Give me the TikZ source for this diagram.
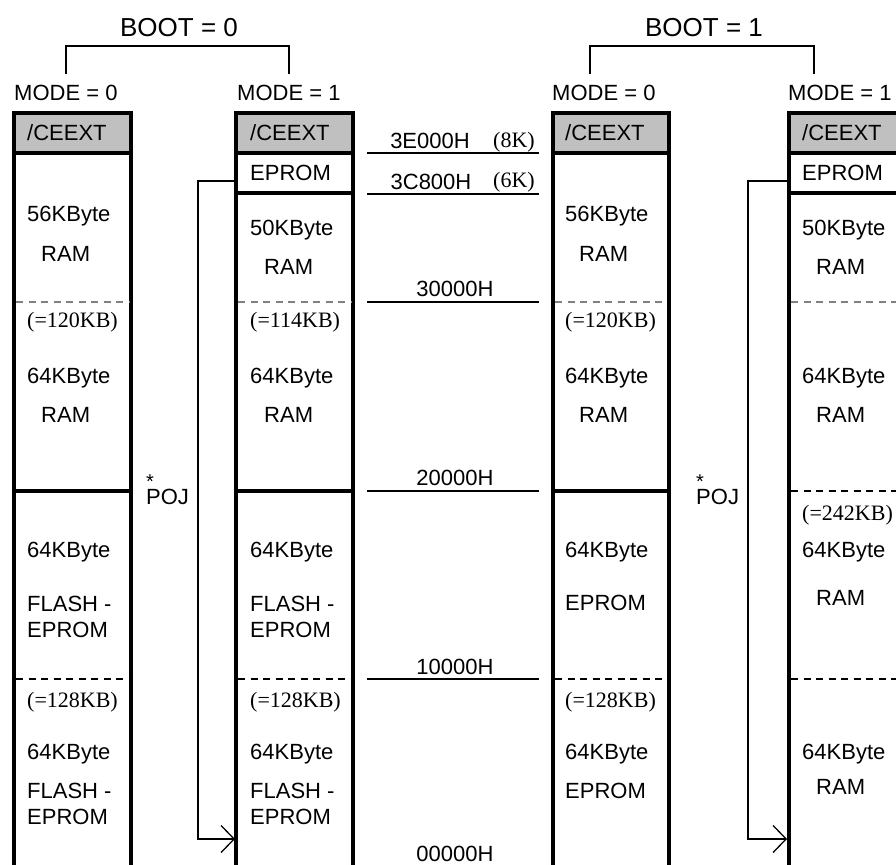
\documentclass[tikz,border=0pt]{standalone}
\usepackage{fontspec}
\setmainfont{Liberation Sans}
\newfontfamily\tnr{Liberation Serif}
\usetikzlibrary{arrows.meta}
\definecolor{hdr}{RGB}{192,192,192}
\definecolor{dgray}{RGB}{128,128,128}
\begin{document}
\begin{tikzpicture}[x=1pt,y=-1pt,
  colline/.style={line width=4pt, line join=miter},
  t/.style={anchor=west, inner sep=0pt, text height=15.7pt, text depth=0pt, font=\fontsize{22}{26}\selectfont},
  ts/.style={anchor=west, inner sep=0pt, text height=15.7pt, text depth=0pt, font=\fontsize{22}{26}\selectfont\tnr},
  tc/.style={anchor=center, inner sep=0pt, text height=15.7pt, text depth=0pt, font=\fontsize{22}{26}\selectfont},
  tcs/.style={anchor=center, inner sep=0pt, text height=15.7pt, text depth=0pt, font=\fontsize{22}{26}\selectfont\tnr},
  boot/.style={anchor=center, inner sep=0pt, text height=18.6pt, text depth=0pt, font=\fontsize{26}{30}\selectfont},
  star/.style={anchor=south, inner sep=0pt, font=\fontsize{20}{24}\selectfont},
  gdash/.style={draw=dgray, line width=1.5pt, dash pattern=on 7pt off 5.5pt},
  bdash/.style={draw=black, line width=1.3pt, dash pattern=on 7pt off 5.5pt},
  addr/.style={line width=2pt},
  brk/.style={line width=1.6pt},
  poj/.style={line width=1.3pt, -{Straight Barb[length=13pt,width=27pt,line width=1.3pt]}}
]
\clip (0,0) rectangle (896,864);
\fill[white] (0,0) rectangle (896,864);

% columns
\foreach \L/\R in {14/131,236/353,553/669,789/906}{
  \fill[hdr] (\L,113) rectangle (\R,153);
  \draw[colline] (\L,880) -- (\L,113) -- (\R,113) -- (\R,880);
  \draw[colline] (\L,153) -- (\R,153);
}
% EPROM separators
\draw[colline] (236,193) -- (353,193);
\draw[colline] (789,193) -- (906,193);
% 20000H thick separators
\draw[colline] (14,491) -- (131,491);
\draw[colline] (236,491) -- (353,491);
\draw[colline] (553,491) -- (669,491);
% dashed separators
\foreach \L/\R in {14/131,236/353,553/669,789/906}{
  \draw[gdash] (\L+2,302) -- (\R-2,302);
  \draw[bdash] (\L+2,679) -- (\R-2,679);
}
\draw[bdash] (791,491) -- (906,491);

% top labels and brackets
\node[boot] (b0) at (179,27) {BOOT = 0};
\node[boot] (b1) at (704,27) {BOOT = 1};
\draw[brk] (66,74) -- (66,46) -- (289,46) -- (289,74);
\draw[brk] (590,74) -- (590,46) -- (814,46) -- (814,74);
\node[t] (m1) at (14,93) {MODE = 0};
\node[t] (m2) at (237,93) {MODE = 1};
\node[t] (m3) at (552,93) {MODE = 0};
\node[t] (m4) at (788,93) {MODE = 1};

% column 1
\node[t] (c1h) at (27,133) {/CEEXT};
\node[t] (c1a) at (27,214) {56KByte};
\node[t] (c1b) at (41,254) {RAM};
\node[ts] (c1c) at (27,320) {(=120KB)};
\node[t] (c1d) at (27,376) {64KByte};
\node[t] (c1e) at (41,415) {RAM};
\node[t] (c1f) at (27,550) {64KByte};
\node[t] (c1g) at (27,604) {FLASH -};
\node[t] (c1h2) at (27,630) {EPROM};
\node[ts] (c1i) at (27,700) {(=128KB)};
\node[t] (c1j) at (27,752) {64KByte};
\node[t] (c1k) at (27,791) {FLASH -};
\node[t] (c1l) at (27,817) {EPROM};

% column 2
\node[t] (c2h) at (250,133) {/CEEXT};
\node[t] (c2e0) at (250,173) {EPROM};
\node[t] (c2a) at (250,228) {50KByte};
\node[t] (c2b) at (264,267) {RAM};
\node[ts] (c2c) at (250,320) {(=114KB)};
\node[t] (c2d) at (250,376) {64KByte};
\node[t] (c2e) at (264,415) {RAM};
\node[t] (c2f) at (250,550) {64KByte};
\node[t] (c2g) at (250,604) {FLASH -};
\node[t] (c2h2) at (250,630) {EPROM};
\node[ts] (c2i) at (250,700) {(=128KB)};
\node[t] (c2j) at (250,752) {64KByte};
\node[t] (c2k) at (250,791) {FLASH -};
\node[t] (c2l) at (250,817) {EPROM};

% column 3
\node[t] (c3h) at (565,133) {/CEEXT};
\node[t] (c3a) at (565,214) {56KByte};
\node[t] (c3b) at (579,254) {RAM};
\node[ts] (c3c) at (565,320) {(=120KB)};
\node[t] (c3d) at (565,376) {64KByte};
\node[t] (c3e) at (579,415) {RAM};
\node[t] (c3f) at (565,550) {64KByte};
\node[t] (c3g) at (565,603) {EPROM};
\node[ts] (c3i) at (565,700) {(=128KB)};
\node[t] (c3j) at (565,752) {64KByte};
\node[t] (c3k) at (565,791) {EPROM};

% column 4
\node[t] (c4h) at (802,133) {/CEEXT};
\node[t] (c4e0) at (802,173) {EPROM};
\node[t] (c4a) at (802,228) {50KByte};
\node[t] (c4b) at (816,267) {RAM};
\node[t] (c4d) at (802,376) {64KByte};
\node[t] (c4e) at (816,415) {RAM};
\node[ts] (c4c) at (802,513) {(=242KB)};
\node[t] (c4f) at (802,550) {64KByte};
\node[t] (c4g) at (816,598) {RAM};
\node[t] (c4j) at (802,752) {64KByte};
\node[t] (c4k) at (816,787) {RAM};

% address scale
\node[tc] (ad1) at (430,141) {3E000H};
\node[tcs] (k8) at (514,140) {(8K)};
\draw[addr] (367,153) -- (539,153);
\node[tc] (ad2) at (431,182) {3C800H};
\node[tcs] (k6) at (514,180) {(6K)};
\draw[addr] (367,194) -- (539,194);
\node[tc] (ad3) at (455,289) {30000H};
\draw[addr] (367,302) -- (539,302);
\node[tc] (ad4) at (455,478) {20000H};
\draw[addr] (367,491) -- (539,491);
\node[tc] (ad5) at (455,667) {10000H};
\draw[addr] (367,679) -- (539,679);
\node[tc] (ad6) at (455,854) {00000H};

% POJ arrows
\node[t] (poj1) at (146,497) {POJ};
\node[star] (st1) at ([xshift=4pt]poj1.north west) {*};
\node[t] (poj2) at (696,497) {POJ};
\node[star] (st2) at ([xshift=4pt]poj2.north west) {*};

\coordinate (p1s) at (234,181);
\coordinate (p1e) at (235,839);
\coordinate (p2s) at (787,181);
\coordinate (p2e) at (787,839);
\draw[poj] (p1s) -- (198,181) |- (p1e);
\draw[poj] (p2s) -- (748,181) |- (p2e);
\end{tikzpicture}
\end{document}
